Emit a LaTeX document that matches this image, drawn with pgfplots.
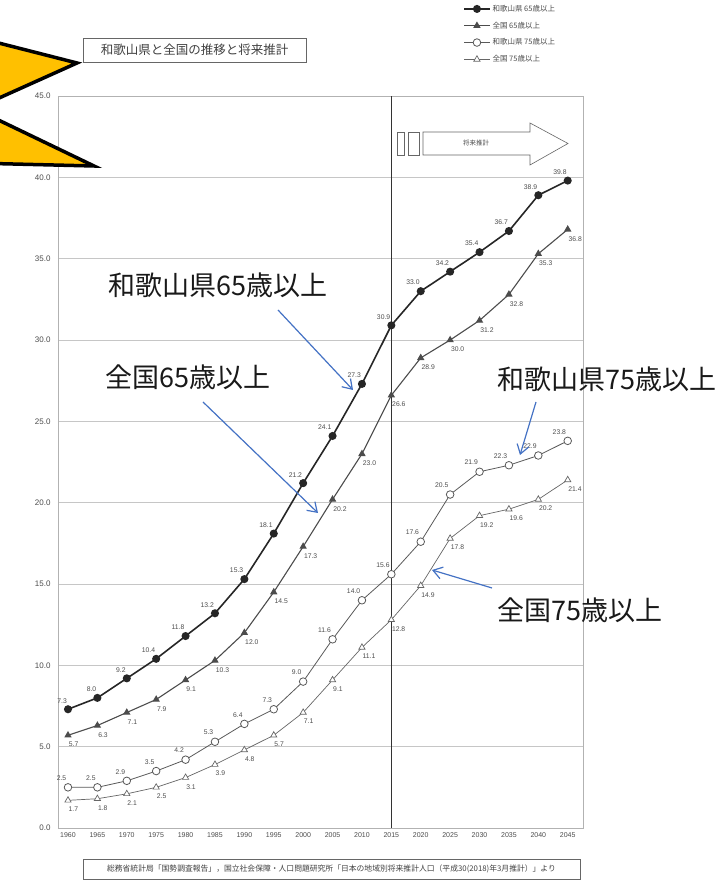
\documentclass[border=0pt]{standalone}
\usepackage{fontspec}
\setmainfont{Liberation Sans}
\newfontfamily\cjk{Noto Sans CJK JP}
\usepackage{pgfplots}
\pgfplotsset{compat=1.18}
\usetikzlibrary{arrows.meta}
\definecolor{annblue}{HTML}{4472C4}
\definecolor{callout}{HTML}{FFC000}
\begin{document}
\begin{tikzpicture}[x=1pt,y=1pt]
\useasboundingbox (0,0) rectangle (719,889);
\begin{axis}[
  at={(58pt,61pt)}, anchor=south west,
  scale only axis, width=525pt, height=732pt,
  xmin=1958.3, xmax=2047.6, ymin=0, ymax=45,
  xtick={1960,1965,...,2045},
  ytick={0,5,...,45},
  /pgf/number format/assume math mode=true,
  /pgf/number format/set thousands separator={},
  xticklabel style={font=\fontsize{7}{8}\selectfont, text=black!70, yshift=-1pt},
  yticklabel style={font=\fontsize{8}{9}\selectfont, text=black!70, xshift=-4pt,
    /pgf/number format/.cd, fixed, fixed zerofill, precision=1},
  ymajorgrids, grid style={gray!45, line width=0.6pt},
  axis line style={gray!60, line width=0.7pt},
  tick style={draw=none},
  clip=false,
  legend style={at={(0.766,1.13)}, anchor=north west, draw=none, fill=none,
    font=\cjk\fontsize{7.5}{8}\selectfont, text=black!70, row sep=5pt},
  legend cell align=left,
  legend image code/.code={\draw[mark repeat=2,mark phase=2,#1] plot coordinates {(0cm,0cm) (0.45cm,0cm) (0.9cm,0cm)};},
  nodes near coords={\pgfmathprintnumber[fixed,fixed zerofill,precision=1]{\pgfplotspointmeta}},
  every node near coord/.append style={font=\fontsize{6.8}{7}\selectfont, text=black!70},
]
\draw[black!80, line width=0.8pt] (axis cs:2015,0) -- (axis cs:2015,45);
\addplot[draw=black!85, line width=1.6pt, mark=*, mark size=3.2pt, mark options={fill=black!85, solid},
  every node near coord/.append style={anchor=south east, xshift=3pt, yshift=2pt}]
  coordinates {(1960,7.3) (1965,8.0) (1970,9.2) (1975,10.4) (1980,11.8) (1985,13.2) (1990,15.3) (1995,18.1) (2000,21.2) (2005,24.1) (2010,27.3) (2015,30.9) (2020,33.0) (2025,34.2) (2030,35.4) (2035,36.7) (2040,38.9) (2045,39.8)};
\addlegendentry{和歌山県 65歳以上}
\addplot[draw=black!70, line width=1.1pt, mark=triangle*, mark size=3.2pt, mark options={fill=black!70, solid},
  every node near coord/.append style={anchor=north west, xshift=-3pt, yshift=-3pt}]
  coordinates {(1960,5.7) (1965,6.3) (1970,7.1) (1975,7.9) (1980,9.1) (1985,10.3) (1990,12.0) (1995,14.5) (2000,17.3) (2005,20.2) (2010,23.0) (2015,26.6) (2020,28.9) (2025,30.0) (2030,31.2) (2035,32.8) (2040,35.3) (2045,36.8)};
\addlegendentry{全国 65歳以上}
\addplot[draw=black!65, line width=0.8pt, mark=*, mark size=3.8pt, mark options={fill=white, draw=black!65, solid},
  every node near coord/.append style={anchor=south east, xshift=2pt, yshift=3pt}]
  coordinates {(1960,2.5) (1965,2.5) (1970,2.9) (1975,3.5) (1980,4.2) (1985,5.3) (1990,6.4) (1995,7.3) (2000,9.0) (2005,11.6) (2010,14.0) (2015,15.6) (2020,17.6) (2025,20.5) (2030,21.9) (2035,22.3) (2040,22.9) (2045,23.8)};
\addlegendentry{和歌山県 75歳以上}
\addplot[draw=black!60, line width=0.7pt, mark=triangle*, mark size=3.6pt, mark options={fill=white, draw=black!60, solid},
  every node near coord/.append style={anchor=north west, xshift=-3pt, yshift=-3pt}]
  coordinates {(1960,1.7) (1965,1.8) (1970,2.1) (1975,2.5) (1980,3.1) (1985,3.9) (1990,4.8) (1995,5.7) (2000,7.1) (2005,9.1) (2010,11.1) (2015,12.8) (2020,14.9) (2025,17.8) (2030,19.2) (2035,19.6) (2040,20.2) (2045,21.4)};
\addlegendentry{全国 75歳以上}
\end{axis}
% projection arrow
\draw[black!60, line width=0.6pt, fill=white] (397,734) rectangle (404,757);
\draw[black!60, line width=0.6pt, fill=white] (408,734) rectangle (419,757);
\draw[black!60, line width=0.6pt, fill=white] (423,734) -- (423,757) -- (530,757) -- (530,766) -- (568,745.5) -- (530,724) -- (530,734) -- cycle;
\node[font=\cjk\fontsize{6.5}{7}\selectfont, text=black!70] at (476,745.5) {将来推計};
% title box
\node[draw=black!60, line width=0.7pt, minimum width=223pt, minimum height=24pt, inner sep=2pt,
  font=\cjk\fontsize{12.5}{13}\selectfont, text=black!75] at (194.5,839) {和歌山県と全国の推移と将来推計};
% source box
\node[draw=black!60, line width=0.6pt, minimum width=497pt, minimum height=20pt, inner sep=2pt,
  font=\cjk\fontsize{7.8}{8}\selectfont, text=black!75] at (331.5,20) {総務省統計局「国勢調査報告」，国立社会保障・人口問題研究所「日本の地域別将来推計人口（平成30(2018)年3月推計）」より};
% callouts
\draw[line width=3.5pt, fill=callout, line join=miter] (-12,848.7) -- (77,826) -- (-12,786) -- cycle;
\draw[line width=3.5pt, fill=callout, line join=miter] (-12,774) -- (94,723) -- (-12,725.6) -- cycle;
% annotations
\node[anchor=west, inner sep=0pt, font=\cjk\fontsize{27}{27}\selectfont, text=black!90] at (108,604) {和歌山県65歳以上};
\node[anchor=west, inner sep=0pt, font=\cjk\fontsize{27}{27}\selectfont, text=black!90] at (105,512) {全国65歳以上};
\node[anchor=west, inner sep=0pt, font=\cjk\fontsize{27}{27}\selectfont, text=black!90] at (497,510) {和歌山県75歳以上};
\node[anchor=west, inner sep=0pt, font=\cjk\fontsize{27}{27}\selectfont, text=black!90] at (497,279) {全国75歳以上};
\begin{scope}[annblue, line width=1.2pt, -{Straight Barb[length=9pt,width=12pt]}]
\draw (278,579) -- (353,499);
\draw (203,487) -- (318,376);
\draw (536,487) -- (520,434);
\draw (492,301) -- (432,319);
\end{scope}
\end{tikzpicture}
\end{document}
